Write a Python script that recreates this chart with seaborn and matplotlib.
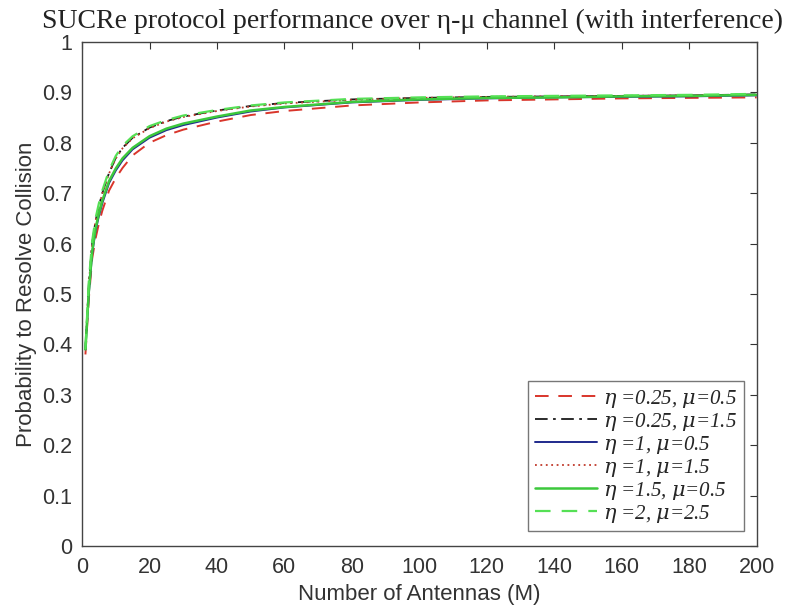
import numpy as np
import pandas as pd
import matplotlib
matplotlib.use("Agg")
import matplotlib.pyplot as plt
import seaborn as sns

# Number of antennas
M = [1, 2, 3, 4, 5, 6, 8, 10, 12, 15, 20, 25, 30, 40, 50, 60, 80, 100, 120, 140, 160, 180, 200]

# probability to resolve collision
p_025_05 = [0.38, 0.49, 0.57, 0.61, 0.64, 0.665, 0.705, 0.73, 0.75, 0.775, 0.80, 0.815, 0.826,
            0.842, 0.855, 0.863, 0.874, 0.880, 0.884, 0.886, 0.888, 0.889, 0.890]
p_025_15 = [0.39, 0.52, 0.60, 0.645, 0.675, 0.70, 0.74, 0.77, 0.79, 0.81, 0.83, 0.843, 0.852,
            0.864, 0.873, 0.879, 0.886, 0.889, 0.891, 0.892, 0.893, 0.894, 0.896]
p_1_05 = [0.39, 0.50, 0.58, 0.625, 0.655, 0.68, 0.72, 0.745, 0.765, 0.787, 0.81, 0.825, 0.835,
          0.850, 0.862, 0.870, 0.880, 0.885, 0.888, 0.890, 0.891, 0.892, 0.894]
p_1_15 = [0.39, 0.52, 0.60, 0.645, 0.674, 0.699, 0.739, 0.769, 0.789, 0.809, 0.829, 0.842, 0.851,
          0.863, 0.872, 0.878, 0.885, 0.889, 0.891, 0.892, 0.893, 0.894, 0.895]
p_15_05 = [0.39, 0.505, 0.585, 0.63, 0.66, 0.685, 0.724, 0.749, 0.769, 0.79, 0.813, 0.828, 0.838,
           0.852, 0.864, 0.871, 0.881, 0.886, 0.889, 0.890, 0.892, 0.893, 0.895]
p_2_25 = [0.39, 0.525, 0.605, 0.65, 0.68, 0.705, 0.745, 0.774, 0.794, 0.813, 0.833, 0.845, 0.854,
          0.865, 0.874, 0.880, 0.887, 0.890, 0.892, 0.893, 0.894, 0.895, 0.897]

labels = ["$\\eta$ =0.25, $\\mu$=0.5", "$\\eta$ =0.25, $\\mu$=1.5", "$\\eta$ =1, $\\mu$=0.5",
          "$\\eta$ =1, $\\mu$=1.5", "$\\eta$ =1.5, $\\mu$=0.5", "$\\eta$ =2, $\\mu$=2.5"]
series = [p_025_05, p_025_15, p_1_05, p_1_15, p_15_05, p_2_25]
colors = ["#d9352b", "#1a1a1a", "#1f2a8c", "#c0392b", "#3cc83c", "#55e055"]
styles = [(0, (7, 5)), (0, (7, 3, 1.5, 3)), "-", (0, (1, 2)), "-", (0, (7, 5))]
widths = [1.4, 1.3, 1.4, 1.3, 1.8, 1.6]

sns.set_theme(style="white")
plt.rcParams["mathtext.fontset"] = "dejavuserif"

fig = plt.figure(figsize=(7.89, 6.08), dpi=100)
ax = fig.add_axes([0.104, 0.102, 0.855, 0.829])

for vals, lab, c, ls, lw in zip(series, labels, colors, styles, widths):
    df = pd.DataFrame({"M": M, "P": vals})
    sns.lineplot(data=df, x="M", y="P", ax=ax, color=c, linestyle=ls, linewidth=lw, label=lab)

ax.set_xlim(0, 200)
ax.set_ylim(0, 1)
ax.set_xticks(np.arange(0, 201, 20))
yt = np.round(np.arange(0, 1.01, 0.1), 1)
ax.set_yticks(yt)
ax.set_yticklabels(["0" if v == 0 else ("1" if v == 1 else f"{v:.1f}") for v in yt])
ax.tick_params(direction="in", length=5, width=0.8, top=True, right=True,
               labelsize=15.5, colors="#333333", labelcolor="#333333")
ax.tick_params(axis="x", pad=8)
ax.tick_params(axis="y", pad=7)
for lab in ax.get_xticklabels() + ax.get_yticklabels():
    lab.set_family("Liberation Sans")
for s in ax.spines.values():
    s.set_color("#444444")
    s.set_linewidth(1.0)

ax.set_xlabel("Number of Antennas (M)", fontsize=16, family="Liberation Sans", color="#333333", labelpad=4)
ax.set_ylabel("Probability to Resolve Collision", fontsize=16, family="Liberation Sans", color="#333333", labelpad=4)
ax.set_title("SUCRe protocol performance over \u03b7-\u03bc channel (with interference)",
             fontsize=20, family="Liberation Serif", color="#222222", pad=10, x=0.49)

leg = ax.legend(loc="lower right", bbox_to_anchor=(0.996, 0.009),
                prop={"family": "Liberation Serif", "style": "italic", "size": 15},
                handlelength=3.0, handletextpad=0.3, labelspacing=0.05,
                borderpad=0.3, frameon=True, fancybox=False)
leg.get_frame().set_edgecolor("#555555")
leg.get_frame().set_linewidth(1.0)

fig.savefig("out.png", dpi=100)
